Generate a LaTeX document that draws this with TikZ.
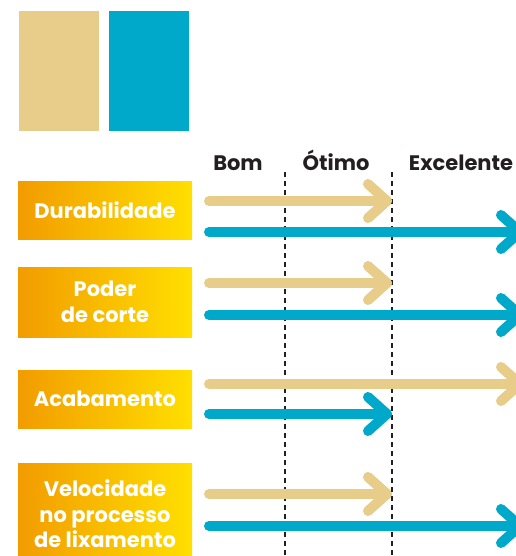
\documentclass[tikz,border=0pt]{standalone}
\usepackage{fontspec}
\setmainfont{Poppins}
\usetikzlibrary{calc}
\definecolor{tanc}{HTML}{E8CD8A}
\definecolor{bluec}{HTML}{00A9C9}
\definecolor{orangec}{HTML}{F29C00}
\definecolor{yellowc}{HTML}{FFDF00}
\definecolor{darkc}{HTML}{231F20}
\tikzset{
  swatch/.style={minimum width=80pt, minimum height=120pt, inner sep=0pt, anchor=north west},
  labelbox/.style={left color=orangec, right color=yellowc, minimum width=174pt, inner sep=0pt,
    text=white, font=\fontsize{21}{25.5}\selectfont\bfseries, align=center},
  header/.style={text=darkc, font=\fontsize{21}{25}\selectfont\bfseries, anchor=base, inner sep=0pt},
  arr/.style={line width=10pt, line cap=round, line join=round},
  divider/.style={darkc, line width=1.1pt, dash pattern=on 5pt off 4pt}
}
\begin{document}
\begin{tikzpicture}[x=1pt, y=-1pt]
\useasboundingbox (0,0) rectangle (515,556);
% legend swatches
\node[swatch, fill=tanc] (sw1) at (19,11) {};
\node[swatch, fill=bluec] (sw2) at (109,11) {};
% headers
\node[header] (h1) at (238,171) {Bom};
\node[header] (h2) at (336,171) {Ótimo};
\node[header] (h3) at (461,171) {Excelente};
% dividers
\coordinate (d1t) at (285,172); \coordinate (d1b) at (285,556);
\coordinate (d2t) at (392,172); \coordinate (d2b) at (392,556);
\draw[divider] (d1t) -- (d1b);
\draw[divider] (d2t) -- (d2b);
% label boxes
\node[labelbox, minimum height=58pt] (l1) at (105,210) {Durabilidade};
\node[labelbox, minimum height=70pt] (l2) at (105,302) {Poder\\de corte};
\node[labelbox, minimum height=58pt] (l3) at (105,399) {Acabamento};
\node[labelbox, minimum height=102pt] (l4) at (105,514) {Velocidade\\no processo\\de lixamento};
% arrows
\foreach \c/\yy/\tx/\n in {tanc/201/387/a1, bluec/232/520/b1,
                           tanc/283/387/a2, bluec/315/520/b2,
                           tanc/384/520/a3, bluec/414/387/b3,
                           tanc/494/387/a4, bluec/526/520/b4}{
  \coordinate (\n s) at (209,\yy);
  \coordinate (\n e) at (\tx,\yy);
  \draw[arr, \c] (\n s) -- (\n e);
  \draw[arr, \c] ($(\n e)+(-19,-17)$) -- (\n e) -- ($(\n e)+(-19,17)$);
}
\end{tikzpicture}
\end{document}
